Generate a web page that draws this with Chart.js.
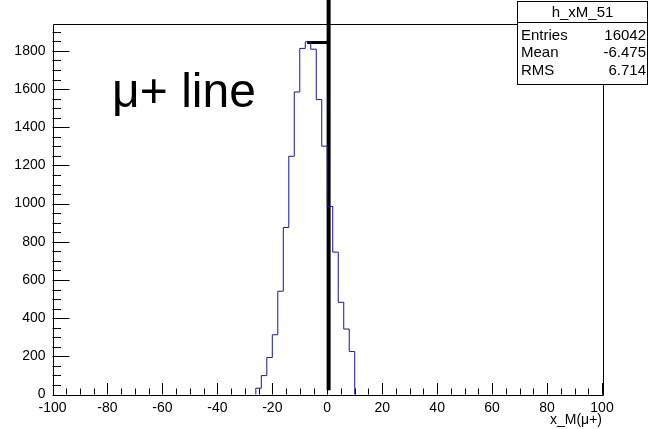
<!DOCTYPE html>
<html><head><meta charset="utf-8">
<script src="https://cdn.jsdelivr.net/npm/chart.js@4.4.0/dist/chart.umd.min.js"></script>
<style>html,body{margin:0;padding:0;background:#fff;}#wrap{width:650px;height:429px;}</style>
</head><body><div id="wrap"><canvas id="c" width="650" height="429"></canvas></div>
<script>
// ---- data ----
const binLowEdges = [-26,-24,-22,-20,-18,-16,-14,-12,-10,-8,-6,-4,-2,0,2,4,6,8];
const binWidth = 2;
const counts = [33,99,194,313,541,875,1248,1585,1813,1848,1809,1545,1301,985,746,483,343,225];
const xMajorTicks = [-100,-80,-60,-40,-20,0,20,40,60,80,100];
const yMajorTicks = [0,200,400,600,800,1000,1200,1400,1600,1800];
const xRange = [-100, 100];
const yRange = [0, 1941];
const markerVertX = [0.5, 0.5];
const markerVertY = [22, 2100];
const markerHorX = [-7.3, 0.5];
const markerHorY = [1844, 1844];
const markerText = 'μ+ line';
const markerTextPos = [-78.3, 1508];
const histName = 'h_xM_51';
const statsLabels = ['Entries', 'Mean', 'RMS'];
const statsValues = ['16042', '-6.475', '6.714'];
const xTitle = 'x_M(μ+)';

const FONT = "'Liberation Sans', Arial, Helvetica, sans-serif";

const histPoints = [{x: binLowEdges[0], y: 0}];
binLowEdges.forEach((e, i) => histPoints.push({x: e, y: counts[i]}));
histPoints.push({x: binLowEdges[binLowEdges.length - 1] + binWidth, y: 0});

const frameAndTicks = {
  id: 'frameAndTicks',
  beforeDatasetsDraw(chart) {
    const ctx = chart.ctx, a = chart.chartArea;
    const xs = chart.scales.x, ys = chart.scales.y;
    ctx.save();
    ctx.strokeStyle = '#000';
    ctx.lineWidth = 1;
    ctx.beginPath();
    ctx.rect(Math.round(a.left) + 0.5, Math.round(a.top) + 0.5, Math.round(a.right - a.left), Math.round(a.bottom - a.top));
    ctx.stroke();
    ctx.beginPath();
    for (let v = yRange[0]; v <= yRange[1]; v += 50) {
      const y = Math.round(ys.getPixelForValue(v)) + 0.5;
      const len = (v % 200 === 0) ? 17 : 8.5;
      ctx.moveTo(a.left, y); ctx.lineTo(a.left + len, y);
    }
    for (let v = xRange[0]; v <= xRange[1]; v += 5) {
      const x = Math.round(xs.getPixelForValue(v)) + 0.5;
      const len = (v % 20 === 0) ? 11.5 : 6;
      ctx.moveTo(x, a.bottom); ctx.lineTo(x, a.bottom - len);
    }
    ctx.stroke();
    ctx.restore();
  },
  afterDraw(chart) {
    const ctx = chart.ctx;
    const xs = chart.scales.x, ys = chart.scales.y;
    ctx.save();
    // text label
    ctx.fillStyle = '#000';
    ctx.font = '48px ' + FONT;
    ctx.textAlign = 'left';
    ctx.textBaseline = 'alphabetic';
    ctx.fillText(markerText, xs.getPixelForValue(markerTextPos[0]), ys.getPixelForValue(markerTextPos[1]));
    // stats box
    const bx = 517.5, by = 1.5, bw = 130, bh = 83, sep = 22.5;
    ctx.fillStyle = '#fff';
    ctx.fillRect(bx, by, bw, bh);
    ctx.strokeStyle = '#000';
    ctx.lineWidth = 1;
    ctx.strokeRect(bx, by, bw, bh);
    ctx.beginPath(); ctx.moveTo(bx, sep); ctx.lineTo(bx + bw, sep); ctx.stroke();
    ctx.fillStyle = '#000';
    ctx.font = '15px ' + FONT;
    ctx.textBaseline = 'middle';
    ctx.textAlign = 'center';
    ctx.fillText(histName, bx + bw / 2, 12.5);
    const rowY = [35.5, 53, 70.5];
    statsLabels.forEach((l, i) => {
      ctx.textAlign = 'left';
      ctx.fillText(l, bx + 3.5, rowY[i]);
      ctx.textAlign = 'right';
      ctx.fillText(statsValues[i], bx + bw - 1.5, rowY[i]);
    });
    ctx.restore();
  }
};

new Chart(document.getElementById('c'), {
  type: 'line',
  data: {
    datasets: [
      {data: histPoints, stepped: 'before', borderColor: 'rgb(20,20,170)', borderWidth: 1, pointRadius: 0, fill: false, tension: 0},
      {data: markerVertX.map((x, i) => ({x, y: markerVertY[i]})), borderColor: '#000', borderWidth: 4, pointRadius: 0, clip: false, borderCapStyle: 'butt'},
      {data: markerHorX.map((x, i) => ({x, y: markerHorY[i]})), borderColor: '#000', borderWidth: 3, pointRadius: 0, clip: false, borderCapStyle: 'butt'}
    ]
  },
  options: {
    responsive: false,
    animation: false,
    devicePixelRatio: 1,
    layout: {padding: {left: 0, right: 48, top: 24, bottom: 0}},
    plugins: {legend: {display: false}, tooltip: {enabled: false}},
    scales: {
      x: {
        type: 'linear', min: xRange[0], max: xRange[1],
        afterBuildTicks: s => { s.ticks = xMajorTicks.map(v => ({value: v})); },
        afterFit: s => { s.height = 34.5; },
        grid: {display: false, drawTicks: false},
        border: {display: false},
        ticks: {color: '#000', font: {family: FONT, size: 14}, padding: 5, maxRotation: 0, autoSkip: false, callback: v => String(v)},
        title: {display: true, text: xTitle, align: 'end', color: '#000', font: {family: FONT, size: 14}, padding: {top: 0, bottom: 0}}
      },
      y: {
        type: 'linear', min: yRange[0], max: yRange[1],
        afterBuildTicks: s => { s.ticks = yMajorTicks.map(v => ({value: v})); },
        afterFit: s => { s.width = 52.5; },
        grid: {display: false, drawTicks: false},
        border: {display: false},
        ticks: {color: '#000', font: {family: FONT, size: 14}, padding: 7, autoSkip: false, callback: v => String(v)}
      }
    }
  },
  plugins: [frameAndTicks]
});
</script></body></html>
